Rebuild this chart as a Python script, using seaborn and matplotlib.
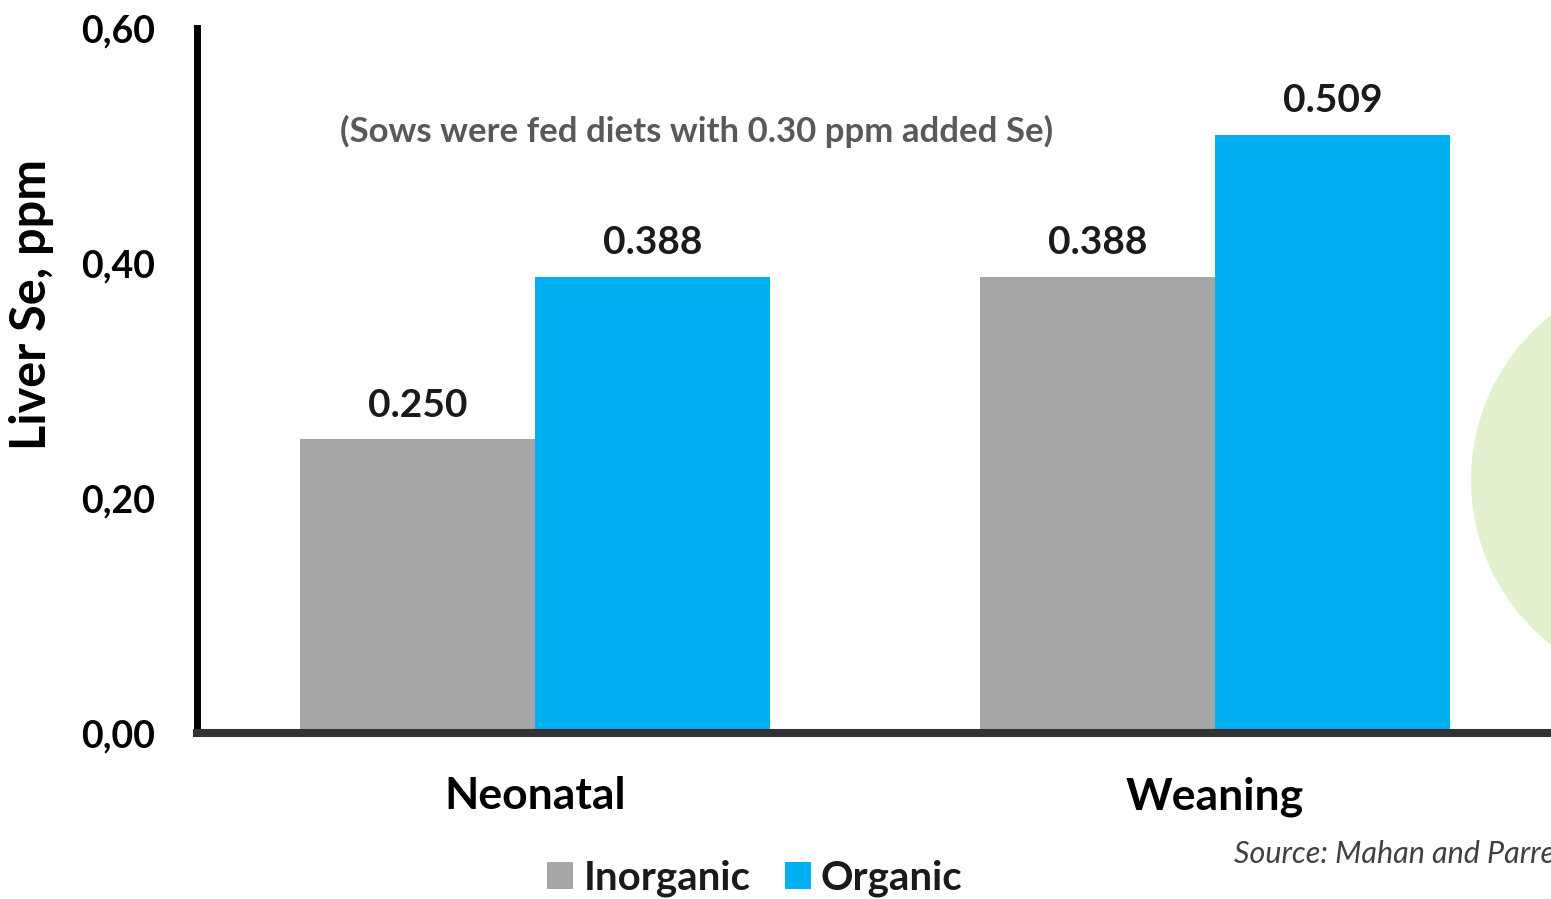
import matplotlib
matplotlib.use("Agg")
import matplotlib.pyplot as plt
from matplotlib.ticker import FuncFormatter
from matplotlib.patches import Circle, Patch
import seaborn as sns
import pandas as pd

stages = ["Neonatal", "Weaning"]
sources = ["Inorganic", "Organic"]
inorganic = [0.250, 0.388]
organic = [0.388, 0.509]
yticks = [0.0, 0.2, 0.4, 0.6]

df = pd.DataFrame({
    "stage": stages * 2,
    "source": [sources[0]] * 2 + [sources[1]] * 2,
    "value": inorganic + organic,
})

sns.set_theme(style="white")
plt.rcParams["font.family"] = ["Lato", "DejaVu Sans"]

W, H = 1551, 899
fig = plt.figure(figsize=(W / 100, H / 100), dpi=100)
ax = fig.add_axes([197 / W, 1 - 733 / H, 1 - 197 / W, (733 - 28) / H])
ax.set_facecolor("none")

palette = {"Inorganic": "#A6A6A6", "Organic": "#00B0F0"}
sns.barplot(data=df, x="stage", y="value", hue="source", order=stages,
            hue_order=sources, palette=palette, width=0.69, saturation=1,
            ax=ax, legend=False, errorbar=None, linewidth=0)

for cont in ax.containers:
    ax.bar_label(cont, fmt="%.3f", padding=12, fontsize=28, fontweight="bold",
                 color="#1a1a1a")

ax.set_ylim(0, 0.6)
ax.set_xlim(-0.497, 1.494)
ax.set_yticks(yticks)
ax.yaxis.set_major_formatter(FuncFormatter(lambda v, p: f"{v:.2f}".replace(".", ",")))
ax.tick_params(axis="y", length=0, pad=30, labelsize=27, labelcolor="black")
ax.tick_params(axis="x", length=0, pad=31, labelsize=32, labelcolor="black")
for lab in ax.get_yticklabels() + ax.get_xticklabels():
    lab.set_fontweight("bold")
ax.set_xlabel("")
ax.set_ylabel("Liver Se, ppm", fontsize=35, fontweight="bold", color="black")
ax.yaxis.set_label_coords(32 / W, 1 - 305 / H, transform=fig.transFigure)
ax.yaxis.label.set_va("center")

for s in ["top", "right"]:
    ax.spines[s].set_visible(False)
ax.spines["left"].set_color("black")
ax.spines["left"].set_linewidth(5)
ax.spines["bottom"].set_color("#333333")
ax.spines["bottom"].set_linewidth(5.8)
ax.grid(False)

ax.text(697 / W, 1 - 131 / H, "(Sows were fed diets with 0.30 ppm added Se)",
        transform=fig.transFigure, ha="center", va="center", fontsize=25,
        fontweight="bold", color="#595959")

fig.patches.append(Circle((1681, H - 480), 210, transform=None,
                          facecolor="#E2F0CE", edgecolor="none", zorder=-1))

fig.text(1234 / W, 1 - 853 / H, "Source: Mahan and Parrett (1996)",
         ha="left", va="center", fontsize=22, fontstyle="italic",
         color="#404040")

handles = [Patch(facecolor=palette[s], edgecolor="none", label=s) for s in sources]
fig.legend(handles=handles, loc="center", bbox_to_anchor=(755 / W, 1 - 878 / H),
           ncol=2, frameon=False, prop={"size": 29, "weight": "bold"},
           handlelength=0.65, handleheight=0.65, handletextpad=0.25,
           columnspacing=0.85, labelcolor="#1a1a1a")

fig.savefig("out.png", dpi=100)
